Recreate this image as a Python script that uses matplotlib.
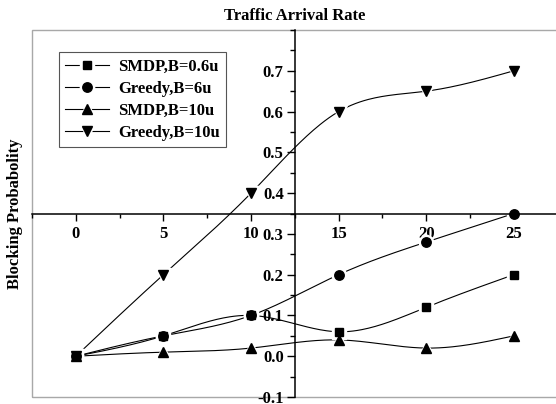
import matplotlib

matplotlib.use("Agg")
import matplotlib.pyplot as plt  # noqa: E402
import numpy as np  # noqa: E402
from matplotlib.patches import Rectangle  # noqa: E402
from matplotlib.ticker import MultipleLocator  # noqa: E402

plt.rcParams["font.family"] = ["Liberation Serif", "DejaVu Serif"]
plt.rcParams["font.weight"] = "bold"

# Taxa de chegada e probabilidade de bloqueio por política
taxa = [0, 5, 10, 15, 20, 25]
smdp_06 = [0.0, 0.05, 0.10, 0.06, 0.12, 0.20]
greedy_6 = [0.0, 0.05, 0.10, 0.20, 0.28, 0.35]
smdp_10 = [0.0, 0.01, 0.02, 0.04, 0.02, 0.05]
greedy_10 = [0.0, 0.20, 0.40, 0.60, 0.65, 0.70]

series = [
    ("SMDP,B=0.6u", smdp_06, "s", 6.2),
    ("Greedy,B=6u", greedy_6, "o", 6.8),
    ("SMDP,B=10u", smdp_10, "^", 7.3),
    ("Greedy,B=10u", greedy_10, "v", 7.3),
]


def spline_natural(x, y, n=200):
    """Spline cúbica natural só para suavizar o traço entre os pontos."""
    x = np.asarray(x, float)
    y = np.asarray(y, float)
    k = len(x)
    h = np.diff(x)
    A = np.zeros((k, k))
    b = np.zeros(k)
    A[0, 0] = A[-1, -1] = 1.0
    for i in range(1, k - 1):
        A[i, i - 1] = h[i - 1]
        A[i, i] = 2 * (h[i - 1] + h[i])
        A[i, i + 1] = h[i]
        b[i] = 6 * ((y[i + 1] - y[i]) / h[i] - (y[i] - y[i - 1]) / h[i - 1])
    M = np.linalg.solve(A, b)
    xs = np.linspace(x[0], x[-1], n)
    idx = np.clip(np.searchsorted(x, xs) - 1, 0, k - 2)
    x0, x1 = x[idx], x[idx + 1]
    hh = x1 - x0
    a = (x1 - xs) / hh
    c = (xs - x0) / hh
    ys = (a * y[idx] + c * y[idx + 1]
          + ((a ** 3 - a) * M[idx] + (c ** 3 - c) * M[idx + 1]) * hh ** 2 / 6)
    return xs, ys


fig = plt.figure(figsize=(5.56, 4.04), dpi=100)
ax = fig.add_axes([0.0576, 0.0173, 0.9453, 0.9084])
ax.set_xlim(-2.5, 27.5)
ax.set_ylim(-0.1, 0.8)

handles = []
for nome, valores, marcador, tam in series:
    xs, ys = spline_natural(taxa, valores)
    (linha,) = ax.plot(xs, ys, color="black", lw=0.8, zorder=2)
    # halo branco: deixa um pequeno vão entre a linha e o símbolo
    (halo,) = ax.plot(taxa, valores, ls="none", marker=marcador, ms=tam + 3.5,
                      mfc="white", mec="white", zorder=2.1)
    (marca,) = ax.plot(taxa, valores, ls="none", marker=marcador, ms=tam,
                       mfc="black", mec="black", zorder=3)
    handles.append((linha, halo, marca))

# Eixos cruzados no meio (estilo Origin)
ax.spines["left"].set_position(("data", 12.5))
ax.spines["bottom"].set_position(("data", 0.35))
for lado in ("left", "bottom"):
    ax.spines[lado].set_linewidth(1.1)
for lado in ("top", "right"):
    ax.spines[lado].set_visible(False)
ax.add_patch(Rectangle((0, 0), 1, 1, transform=ax.transAxes, fill=False,
                       edgecolor="#a8a8a8", lw=1.0, clip_on=False, zorder=1))

ax.xaxis.set_minor_locator(MultipleLocator(2.5))
ax.yaxis.set_minor_locator(MultipleLocator(0.05))
ax.set_xticks(taxa)
ax.set_yticks(np.round(np.arange(-0.1, 0.71, 0.1), 2))
ax.yaxis.set_major_formatter(plt.FuncFormatter(lambda v, p: f"{v:.1f}"))
ax.tick_params(axis="x", which="major", direction="out", length=5, width=1,
               pad=4, labelsize=12)
ax.tick_params(axis="x", which="minor", direction="out", length=3, width=1)
ax.tick_params(axis="y", which="major", direction="out", length=6, width=1,
               pad=2, labelsize=12)
ax.tick_params(axis="y", which="minor", direction="out", length=3.5, width=1)

ax.set_title("Traffic Arrival Rate", fontsize=12, fontweight="bold", pad=7)
ax.text(-0.032, 0.5, "Blocking Probabolity", transform=ax.transAxes,
        rotation=90, ha="center", va="center", fontsize=12, fontweight="bold")

leg = ax.legend(handles, [s[0] for s in series], loc="upper left",
                bbox_to_anchor=(0.051, 0.94), borderaxespad=0, fontsize=12,
                handlelength=2.6, handletextpad=0.55, labelspacing=0.36,
                fancybox=False, framealpha=1, edgecolor="#555555",
                borderpad=0.4)
leg.get_frame().set_linewidth(0.8)

fig.savefig("out.png", dpi=100)
